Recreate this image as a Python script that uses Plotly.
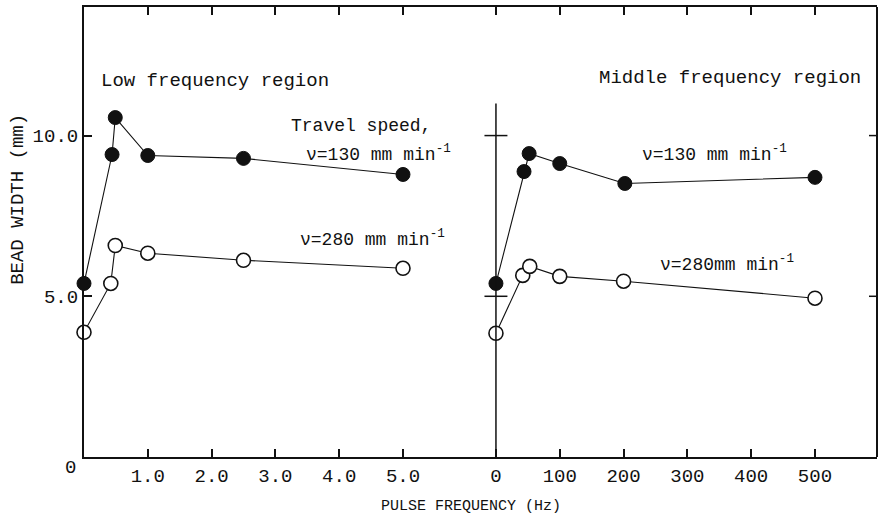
import plotly.graph_objects as go

# ---- data ----
low_freq_130 = [0, 0.44, 0.49, 1.0, 2.5, 5.0]
low_width_130 = [5.40, 9.41, 10.56, 9.38, 9.29, 8.79]
low_freq_280 = [0, 0.42, 0.49, 1.0, 2.5, 5.0]
low_width_280 = [3.88, 5.40, 6.58, 6.34, 6.12, 5.87]

mid_freq_130 = [0, 44, 52, 100, 202, 500]
mid_width_130 = [5.40, 8.88, 9.44, 9.13, 8.51, 8.70]
mid_freq_280 = [0, 42, 53, 100, 200, 500]
mid_width_280 = [3.85, 5.65, 5.93, 5.62, 5.47, 4.94]

low_tickvals = [1, 2, 3, 4, 5]
low_ticktext = ["1.0", "2.0", "3.0", "4.0", "5.0"]
mid_tickvals = [0, 100, 200, 300, 400, 500]
mid_ticktext = ["0", "100", "200", "300", "400", "500"]
y_tickvals = [5, 10]
y_ticktext = ["5.0", "10.0"]

FONT = "Liberation Mono, Courier New, monospace"
BLACK = "#111111"

fig = go.Figure()

filled = dict(size=14, color=BLACK, line=dict(color=BLACK, width=1))
hollow = dict(size=14, color="white", line=dict(color=BLACK, width=1.6))
lstyle = dict(color=BLACK, width=1.1)

fig.add_trace(go.Scatter(x=low_freq_130, y=low_width_130, mode="lines+markers",
                         marker=filled, line=lstyle, cliponaxis=False,
                         xaxis="x", yaxis="y", showlegend=False))
fig.add_trace(go.Scatter(x=mid_freq_130, y=mid_width_130, mode="lines+markers",
                         marker=filled, line=lstyle, cliponaxis=False,
                         xaxis="x2", yaxis="y", showlegend=False))
fig.add_trace(go.Scatter(x=low_freq_280, y=low_width_280, mode="lines+markers",
                         marker=hollow, line=lstyle, cliponaxis=False,
                         xaxis="x", yaxis="y", showlegend=False))
fig.add_trace(go.Scatter(x=mid_freq_280, y=mid_width_280, mode="lines+markers",
                         marker=hollow, line=lstyle, cliponaxis=False,
                         xaxis="x2", yaxis="y", showlegend=False))

split = 0.4741
axis_common = dict(showgrid=False, zeroline=False, showline=True, linecolor=BLACK,
                   linewidth=2, mirror="ticks", ticks="inside", ticklen=8,
                   tickwidth=1.5, tickcolor=BLACK,
                   tickfont=dict(family=FONT, size=19, color=BLACK))

fig.update_layout(
    width=879, height=516,
    margin=dict(l=84, r=2, t=7, b=59),
    paper_bgcolor="white", plot_bgcolor="white",
    xaxis=dict(domain=[0, split], range=[0, 5.893], anchor="y",
               tickvals=low_tickvals, ticktext=low_ticktext, **axis_common),
    xaxis2=dict(domain=[split, 1], range=[-56.4, 597.2], anchor="y",
                tickvals=mid_tickvals, ticktext=mid_ticktext, **axis_common),
    yaxis=dict(range=[0, 14], anchor="x", tickvals=y_tickvals, ticktext=y_ticktext,
               showgrid=False, zeroline=False, showline=True, linecolor=BLACK,
               linewidth=2, ticks="inside", ticklen=8, tickwidth=1.5, tickcolor=BLACK,
               tickfont=dict(family=FONT, size=19, color=BLACK)),
)

shapes = []
# right border of the frame
shapes.append(dict(type="line", xref="paper", yref="paper", x0=1, x1=1, y0=0, y1=1,
                   line=dict(color=BLACK, width=2)))
# inward ticks on the right border
for v in y_tickvals:
    shapes.append(dict(type="line", xref="paper", yref="y", x0=1, x1=1 - 8 / 793,
                       y0=v, y1=v, line=dict(color=BLACK, width=1.5)))
# vertical axis of the middle-frequency panel at 0 Hz
shapes.append(dict(type="line", xref="x2", yref="y", x0=0, x1=0, y0=0, y1=11.0,
                   line=dict(color=BLACK, width=1.5)))
for v in y_tickvals:
    shapes.append(dict(type="line", xref="x2", yref="y", x0=-18, x1=18, y0=v, y1=v,
                       line=dict(color=BLACK, width=1.5)))
fig.update_layout(shapes=shapes)

def txt(text, x, y, xref, size=18, **kw):
    d = dict(text=text, x=x, y=y, xref=xref, yref="y", showarrow=False,
             xanchor="left", yanchor="middle",
             font=dict(family=FONT, size=size, color=BLACK))
    d.update(kw)
    return d

annotations = [
    txt("Low frequency region", 0.235, 11.71, "x", size=19),
    txt("Travel speed,", 3.21, 10.31, "x", size=18),
    txt("\u03bd=130 mm min<sup>-1</sup>", 3.45, 9.44, "x", size=18),
    txt("\u03bd=280 mm min<sup>-1</sup>", 3.35, 6.80, "x", size=18),
    txt("Middle frequency region", 158, 11.80, "x2", size=19),
    txt("\u03bd=130 mm min<sup>-1</sup>", 226, 9.44, "x2", size=18),
    txt("\u03bd=280mm min<sup>-1</sup>", 254, 6.02, "x2", size=18),
    dict(text="0", x=0, y=0, xref="paper", yref="y", xshift=-14, yshift=-11,
         xanchor="center", yanchor="middle",
         showarrow=False, font=dict(family=FONT, size=19, color=BLACK)),
    dict(text="BEAD WIDTH (mm)", x=0, y=8.0, xref="paper", yref="y", xshift=-66,
         xanchor="center", yanchor="middle",
         textangle=-90, showarrow=False, font=dict(family=FONT, size=19, color=BLACK)),
    dict(text="PULSE FREQUENCY (Hz)", x=0.488, y=-0.111, xref="paper", yref="paper",
         showarrow=False, xanchor="center", yanchor="middle",
         font=dict(family=FONT, size=15, color=BLACK)),
]
fig.update_layout(annotations=annotations)

fig.write_html("out.html", config={"displayModeBar": False},
               post_script="document.body.style.margin='0';")
